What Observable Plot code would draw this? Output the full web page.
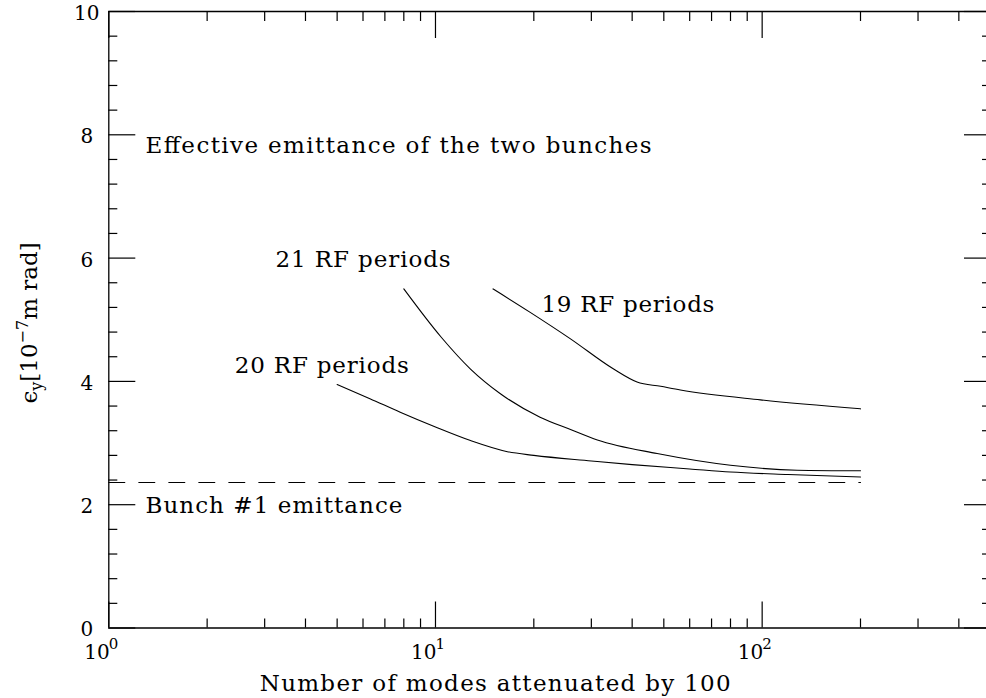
<!DOCTYPE html>
<html><head><meta charset="utf-8">
<script src="https://cdn.jsdelivr.net/npm/d3@7"></script>
<script src="https://cdn.jsdelivr.net/npm/@observablehq/plot@0.6"></script>
<style>
html,body{margin:0;padding:0;background:#fff;overflow:hidden}
#chart svg{overflow:hidden}
</style></head><body><div id="chart"></div>
<script>
// ---- data ----
const modes20 = [5, 6.3, 7.8, 10, 12.8, 16.6, 20, 30, 40, 60, 80, 120, 200];
const emit20  = [3.95, 3.72, 3.50, 3.26, 3.04, 2.86, 2.80, 2.71, 2.65, 2.58, 2.53, 2.49, 2.45];
const modes21 = [8, 10.4, 12.8, 15.8, 20.9, 25.9, 31.3, 47.7, 80, 128, 200];
const emit21  = [5.50, 4.72, 4.20, 3.80, 3.42, 3.22, 3.05, 2.83, 2.64, 2.56, 2.55];
const modes19 = [15, 19.5, 25.9, 35.1, 41.4, 48.9, 56.2, 98.8, 200];
const emit19  = [5.50, 5.12, 4.69, 4.20, 3.99, 3.92, 3.86, 3.70, 3.555];
const bunch1Modes = [1, 200];
const bunch1Emit = 2.36;

const yMajor = [0, 2, 4, 6, 8, 10];
const yMinor = [0.4,0.8,1.2,1.6,2.4,2.8,3.2,3.6,4.4,4.8,5.2,5.6,6.4,6.8,7.2,7.6,8.4,8.8,9.2,9.6];
const xMajor = [1, 10, 100];
const xMajorBase = ["10", "10", "10"];
const xMajorExp = ["0", "1", "2"];
const xMinor = [2,3,4,5,6,7,8,9,20,30,40,50,60,70,80,90,200,300,400];

const noteText = ["Effective emittance of the two bunches", "21 RF periods", "19 RF periods", "20 RF periods", "Bunch #1 emittance"];
const noteX = [1.295, 3.24, 21.1, 2.43, 1.295];
const noteY = [7.70, 5.85, 5.12, 4.14, 1.87];

const xTitle = "Number of modes attenuated by 100";
const yTitle = "ϵy[10-7m rad]";

// text widths (px) matched to the reference lettering
const textWidths = new Map([
  ["Effective emittance of the two bunches", 506],
  ["21 RF periods", 175],
  ["19 RF periods", 173],
  ["20 RF periods", 174],
  ["Bunch #1 emittance", 257],
  [xTitle, 471]
]);

// ---- build ----
const rows = (s, xs, ys) => xs.map((x, i) => ({series: s, x, y: ys[i]}));
const curves = [...rows("20", modes20, emit20), ...rows("21", modes21, emit21), ...rows("19", modes19, emit19)];
const dashed = bunch1Modes.map(x => ({x, y: bunch1Emit}));
const notes = noteText.map((t, i) => ({t, x: noteX[i], y: noteY[i]}));
const FONT = "DejaVu Serif";
const tickOpts = {tickFormat: () => "", label: null, stroke: "black", strokeWidth: 1.2};

const plot = Plot.plot({
  width: 986, height: 698,
  marginLeft: 108.3, marginRight: -4, marginTop: 11, marginBottom: 70.5,
  style: {fontFamily: FONT, background: "white", color: "black"},
  x: {type: "log", domain: [1, 500], axis: null, label: null},
  y: {domain: [0, 10], axis: null, label: null},
  marks: [
    Plot.axisY({anchor: "left", ticks: yMajor, tickSize: -27, ...tickOpts}),
    Plot.axisY({anchor: "left", ticks: yMinor, tickSize: -9, ...tickOpts}),
    Plot.axisY({anchor: "right", ticks: yMajor, tickSize: -27, ...tickOpts}),
    Plot.axisY({anchor: "right", ticks: yMinor, tickSize: -9, ...tickOpts}),
    Plot.axisX({anchor: "bottom", ticks: xMajor, tickSize: -26, ...tickOpts}),
    Plot.axisX({anchor: "bottom", ticks: xMinor, tickSize: -9, ...tickOpts}),
    Plot.axisX({anchor: "top", ticks: xMajor, tickSize: -26, ...tickOpts}),
    Plot.axisX({anchor: "top", ticks: xMinor, tickSize: -9, ...tickOpts}),
    Plot.ruleY([0, 10], {x1: 1, x2: 500, stroke: "black", strokeWidth: 1.3}),
    Plot.ruleX([1, 500], {stroke: "black", strokeWidth: 1.3}),
    Plot.line(dashed, {x: "x", y: "y", stroke: "black", strokeWidth: 1.1, strokeDasharray: "16,14"}),
    Plot.line(curves, {x: "x", y: "y", z: "series", stroke: "black", strokeWidth: 1.1, curve: "monotone-x"}),
    Plot.text(notes, {x: "x", y: "y", text: "t", textAnchor: "start", lineAnchor: "bottom", fontSize: 23, fill: "black"}),
    Plot.text(yMajor, {y: d => d, text: d => String(d), frameAnchor: "left", textAnchor: "middle", dx: -22, dy: 2, fontSize: 20, fill: "black"}),
    Plot.text(xMajor, {x: d => d, text: (d, i) => xMajorBase[i], frameAnchor: "bottom", textAnchor: "end", lineAnchor: "bottom", dx: 1, dy: 30.5, fontSize: 20, fill: "black"}),
    Plot.text(xMajor, {x: d => d, text: (d, i) => xMajorExp[i], frameAnchor: "bottom", textAnchor: "start", lineAnchor: "bottom", dx: 0, dy: 20.5, fontSize: 15, fill: "black"}),
    Plot.text([xTitle], {text: d => d, frameAnchor: "bottom-left", textAnchor: "middle", lineAnchor: "bottom", dx: 386.4, dy: 62.5, fontSize: 23, fill: "black"}),
    Plot.text([yTitle], {text: d => d, frameAnchor: "left", rotate: -90, textAnchor: "middle", lineAnchor: "bottom", dx: -71.6, dy: 3.2, fontSize: 23, fill: "black"})
  ]
});

const svg = d3.select(plot);
// stretch lettering to the reference widths
svg.selectAll("text").each(function() {
  const w = textWidths.get(this.textContent);
  if (w) d3.select(this).attr("textLength", w).attr("lengthAdjust", "spacing");
});
// rich text for the y title (subscript / superscript)
svg.selectAll("text").filter(function() { return this.textContent === yTitle; }).each(function() {
  const t = d3.select(this);
  t.text(null);
  t.append("tspan").text("ϵ");
  t.append("tspan").attr("font-size", 16).attr("dy", 5).text("y");
  t.append("tspan").attr("dy", -5).text("[10");
  t.append("tspan").attr("font-size", 16).attr("dy", -9).text("−7");
  t.append("tspan").attr("dy", 9).text("m rad]");
});

document.getElementById("chart").appendChild(plot);
</script></body></html>
